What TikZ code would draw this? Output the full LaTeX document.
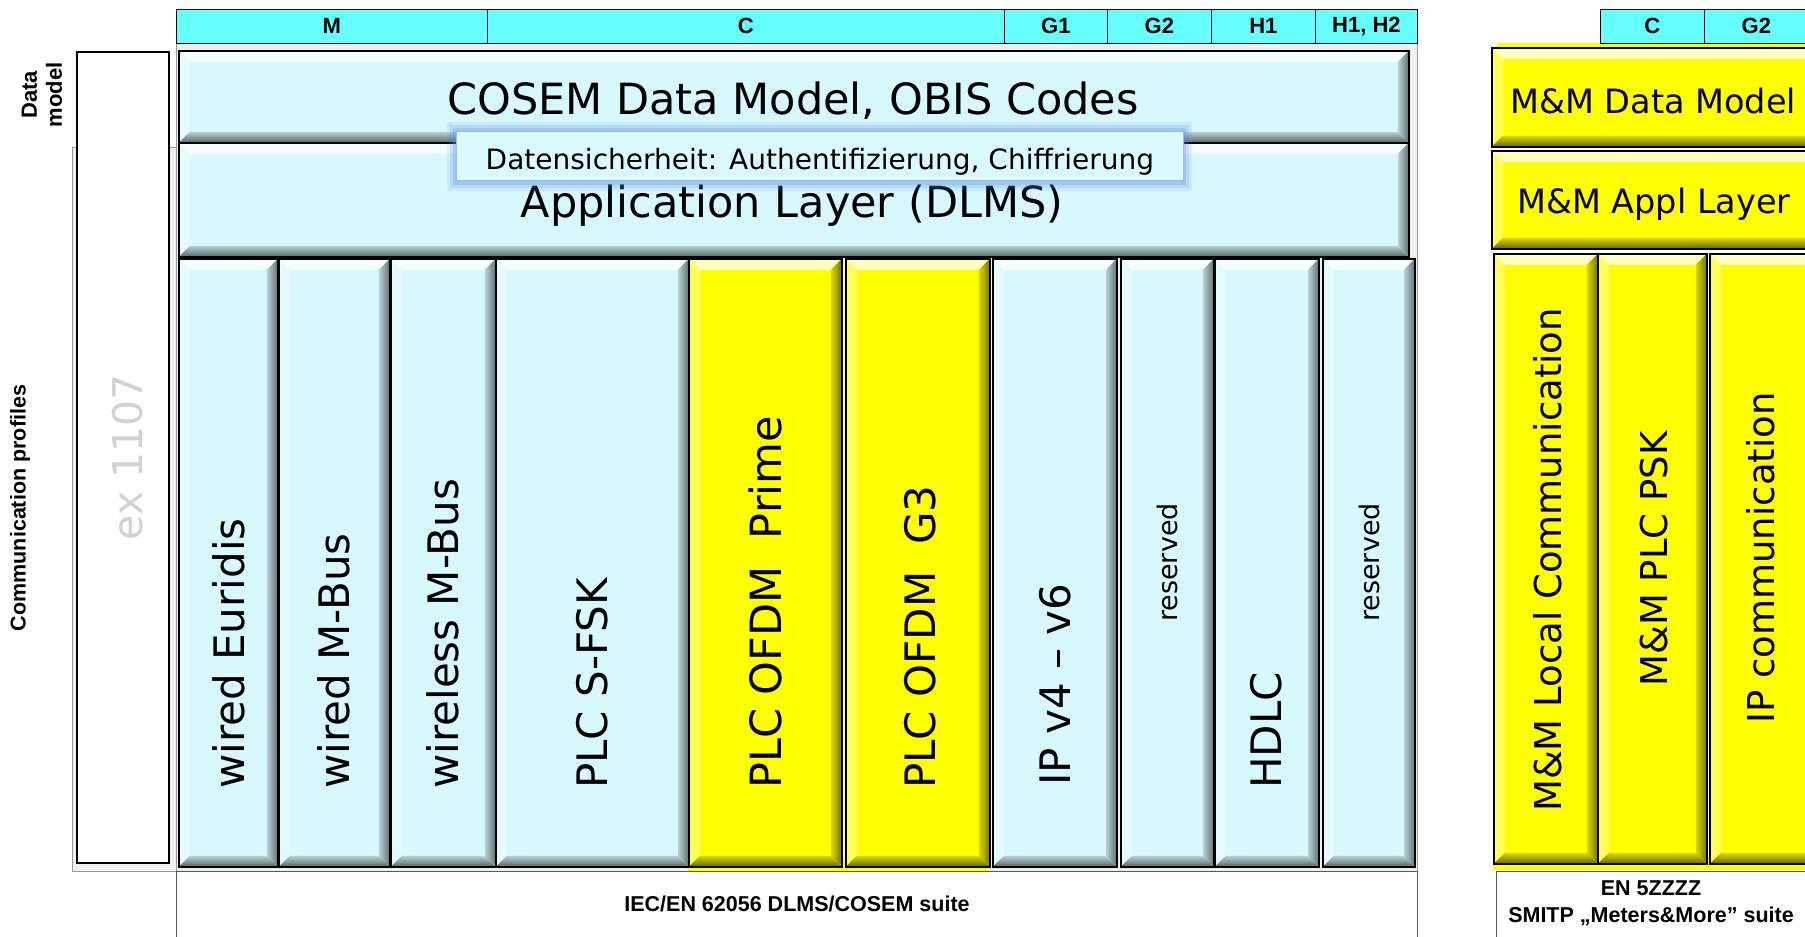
\documentclass[tikz,border=0pt]{standalone}
\usepackage{fontspec}
\setmainfont{DejaVu Sans}
\newfontfamily\labfont{Liberation Sans}
\definecolor{lblue}{HTML}{D8F8FF}
\definecolor{yel}{HTML}{FFFF00}
\definecolor{hcyan}{HTML}{66FFFF}
\definecolor{bggray}{HTML}{F0F0F0}
\definecolor{secfill}{HTML}{DAFAFF}
\definecolor{glow}{HTML}{5A8FE0}
\def\bv{11pt}
\tikzset{
 bevel/.style={draw=black, line width=1.6pt, fill=#1, inner sep=0pt, anchor=north west,
  path picture={
   \fill[white,opacity=.75] (path picture bounding box.north west) -- (path picture bounding box.north east) -- ([xshift=-\bv,yshift=-\bv]path picture bounding box.north east) -- ([xshift=\bv,yshift=-\bv]path picture bounding box.north west) -- cycle;
   \fill[white,opacity=.35] (path picture bounding box.north west) -- ([xshift=\bv,yshift=-\bv]path picture bounding box.north west) -- ([xshift=\bv,yshift=\bv]path picture bounding box.south west) -- (path picture bounding box.south west) -- cycle;
   \shade[top color=#1!85!black, bottom color=#1!40!black] (path picture bounding box.south west) -- ([xshift=\bv,yshift=\bv]path picture bounding box.south west) -- ([xshift=-\bv,yshift=\bv]path picture bounding box.south east) -- (path picture bounding box.south east) -- cycle;
   \shade[left color=#1!85!black, right color=#1!45!black] (path picture bounding box.north east) -- ([xshift=-\bv,yshift=-\bv]path picture bounding box.north east) -- ([xshift=-\bv,yshift=\bv]path picture bounding box.south east) -- (path picture bounding box.south east) -- cycle;
  }},
 hdr/.style={draw=black, line width=0.8pt, fill=hcyan, inner sep=0pt, anchor=north west, minimum height=34pt, font=\labfont\bfseries\fontsize{22}{26}\selectfont},
 plain/.style={inner sep=0pt, anchor=north west},
 big/.style={inner sep=0pt, font=\fontsize{43}{50}\selectfont},
 vtxt/.style={rotate=90, anchor=west, inner sep=0pt, font=\fontsize{42}{50}\selectfont},
 vres/.style={rotate=90, anchor=west, inner sep=0pt, font=\fontsize{27}{32}\selectfont},
 rtxt/.style={rotate=90, inner sep=0pt, font=\fontsize{37}{44}\selectfont},
 blab/.style={inner sep=0pt, align=center, font=\labfont\bfseries\fontsize{21.5}{27}\selectfont},
}
\begin{document}
\begin{tikzpicture}[x=1pt,y=-1pt]
\useasboundingbox (0,0) rectangle (1805,937);
% backgrounds
\node[plain, draw=gray!80, line width=0.8pt, fill=bggray, minimum width=1241pt, minimum height=828pt] (stackbg) at (176,43) {};
\node[plain, draw=gray!80, line width=0.8pt, fill=bggray, minimum width=104pt, minimum height=724pt] (profbg) at (72,147) {};
\node[plain, draw=black, line width=1.8pt, fill=white, minimum width=92pt, minimum height=811pt] (dmbox) at (76,51) {};
\node[plain, draw=gray!70!black, line width=0.8pt, minimum width=1241pt, minimum height=80pt] (iec) at (176,871) {};
\node[plain, draw=gray!70!black, line width=0.8pt, minimum width=330pt, minimum height=80pt] (smitp) at (1496,871) {};
\node[plain, fill=yel, minimum width=301pt, minimum height=13pt] (ystrip1) at (688,858) {};
\node[plain, fill=yel, minimum width=322pt, minimum height=15pt] (ystrip2) at (1493,855) {};
\node[plain, fill=yel, minimum width=322pt, minimum height=6pt] (ystrip3) at (1497,43) {};
% header
\node[hdr, minimum width=311pt] (hM) at (176,9) {M};
\node[hdr, minimum width=517pt] (hC) at (487,9) {C};
\node[hdr, minimum width=103pt] (hG1) at (1004,9) {G1};
\node[hdr, minimum width=104pt] (hG2) at (1107,9) {G2};
\node[hdr, minimum width=104pt] (hH1) at (1211,9) {H1};
\node[hdr, minimum width=102pt] (hH12) at (1315,9) {H1, H2};
\node[hdr, minimum width=104pt] (rC) at (1600,9) {C};
\node[hdr, minimum width=104pt] (rG2) at (1704,9) {G2};
% upper layers
\node[bevel=lblue, minimum width=1230pt, minimum height=92pt] (cosem) at (178,50) {};
\node[bevel=lblue, minimum width=1230pt, minimum height=114pt] (app) at (178,142) {};
\node[big] (cosemt) at (793,101) {COSEM Data Model, OBIS Codes};
\node[big] (appt) at (792,206) {Application Layer (DLMS)};
% security overlay with glow
\fill[glow, opacity=.12] (447,122) rectangle (1192,191);
\fill[glow, opacity=.18] (450,125) rectangle (1189,188);
\fill[glow, opacity=.25] (453,128) rectangle (1186,185);
\node[plain, fill=secfill, draw=glow!60, line width=0.8pt, minimum width=727pt, minimum height=49pt] (sec) at (456,131) {};
\node[inner sep=0pt, font=\fontsize{28}{32}\selectfont] (sect) at ([yshift=-6pt]sec.center) {Datensicherheit: Authentifizierung, Chiffrierung};
% columns
\node[bevel=lblue, minimum width=99pt, minimum height=608pt] (c1) at (178,258) {};
\node[bevel=lblue, minimum width=111pt, minimum height=608pt] (c2) at (278,258) {};
\node[bevel=lblue, minimum width=105pt, minimum height=608pt] (c3) at (390,258) {};
\node[bevel=lblue, minimum width=193pt, minimum height=608pt] (c4) at (495,258) {};
\node[bevel=yel, minimum width=153pt, minimum height=608pt] (c5) at (688,258) {};
\node[bevel=yel, minimum width=144pt, minimum height=608pt] (c6) at (845,258) {};
\node[bevel=lblue, minimum width=124pt, minimum height=608pt] (c7) at (992,258) {};
\node[bevel=lblue, minimum width=93pt, minimum height=608pt] (c8) at (1120,258) {};
\node[bevel=lblue, minimum width=104pt, minimum height=608pt] (c9) at (1214,258) {};
\node[bevel=lblue, minimum width=92pt, minimum height=608pt] (c10) at (1322,258) {};
\node[vtxt] (t1) at (229,789) {wired Euridis};
\node[vtxt] (t2) at (334,789) {wired M-Bus};
\node[vtxt] (t3) at (443,789) {wireless M-Bus};
\node[vtxt] (t4) at (592,789) {PLC S-FSK};
\node[vtxt, font=\fontsize{43}{50}\selectfont] (t5) at (765,789) {PLC OFDM\ \ Prime};
\node[vtxt] (t6) at (920,789) {PLC OFDM\ \ G3};
\node[vtxt] (t7) at (1055,786) {IP v4 – v6};
\node[vres] (t8) at (1167,622) {reserved};
\node[vtxt] (t9) at (1266,789) {HDLC};
\node[vres] (t10) at (1369,622) {reserved};
% right group
\node[bevel=yel, minimum width=330pt, minimum height=99pt] (mmdm) at (1491,47) {};
\node[bevel=yel, minimum width=330pt, minimum height=98pt] (mmal) at (1491,150) {};
\node[inner sep=0pt, font=\fontsize{33.5}{40}\selectfont, anchor=west] (mmdmt) at (1510,101) {M\&M Data Model};
\node[inner sep=0pt, font=\fontsize{33.5}{40}\selectfont, anchor=west] (mmalt) at (1517,204) {M\&M Appl Layer};
\node[bevel=yel, minimum width=104pt, minimum height=610pt] (r1) at (1493,253) {};
\node[bevel=yel, minimum width=109pt, minimum height=610pt] (r2) at (1597,253) {};
\node[bevel=yel, minimum width=110pt, minimum height=610pt] (r3) at (1709,253) {};
\node[rtxt] (rt1) at (1548,560) {M\&M Local Communication};
\node[rtxt] (rt2) at (1654,559) {M\&M PLC PSK};
\node[rtxt] (rt3) at (1761,558) {IP communication};
% side labels
\node[blab, rotate=90, font=\labfont\bfseries\fontsize{22}{25}\selectfont] (dml) at (42,95) {Data\\model};
\node[blab, rotate=90] (cpl) at (20,508) {Communication profiles};
\node[inner sep=0pt, rotate=90, text=gray!35, font=\fontsize{41}{48}\selectfont] (ex) at (128,457) {ex 1107};
% bottom labels
\node[blab] (iect) at (797,904) {IEC/EN 62056 DLMS/COSEM suite};
\node[blab] (smitpt) at (1651,903) {EN 5ZZZZ\\SMITP „Meters\&More” suite};
\end{tikzpicture}
\end{document}
